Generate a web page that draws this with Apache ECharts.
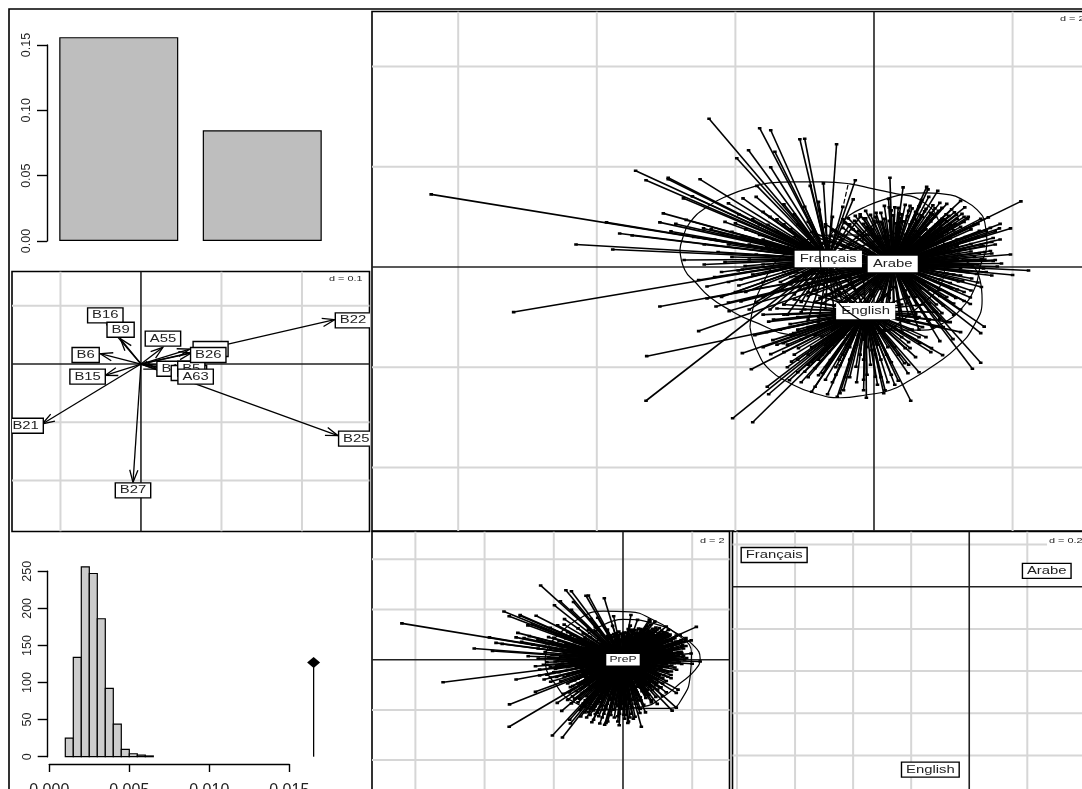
<!DOCTYPE html>
<html>
<head>
<meta charset="utf-8">
<title>ACP inter-classes langue</title>
<script src="https://cdn.jsdelivr.net/npm/echarts@6/dist/echarts.min.js"></script>
<style>
html,body{margin:0;padding:0;background:#fff;overflow:hidden}
#main{width:1082px;height:789px}
</style>
</head>
<body>
<div id="main"></div>
<script type="text/javascript">
// eigenvalue barplot
var eigenValues = [0.156, 0.0847];

// permutation histogram
var histEdges = [0.001, 0.0015, 0.002, 0.0025, 0.003, 0.0035, 0.004, 0.0045, 0.005, 0.0055, 0.006, 0.0065];
var histCounts = [25, 134, 256, 247, 186, 92, 44, 10, 4, 2, 1];
var observedStat = [0.01652, 127];

// biplot arrows: name, tip, label position
var loadNames = ['B12', 'B18', 'B5', '', 'B21', 'B25', 'B22', 'B27', 'B6', 'B15', 'B16', 'B9', 'A55', 'B26', 'A63'];
var loadTips = [[0.019, -0.0086], [0.0385, -0.0114], [0.045, -0.004], [0.0605, 0.0257], [-0.1226, -0.1029], [0.2447, -0.1229], [0.2406, 0.076], [-0.0099, -0.203], [-0.0505, 0.0177], [-0.0443, -0.0194], [-0.0422, 0.0675], [-0.0257, 0.0435], [0.0273, 0.0286], [0.0625, 0.0189], [0.05, -0.012]];
var loadLabels = [[0.0418, -0.008], [0.0596, -0.0154], [0.0625, -0.008], [0.0865, 0.0257], [-0.1433, -0.1058], [0.2675, -0.128], [0.2634, 0.0749], [-0.0099, -0.2167], [-0.0687, 0.0154], [-0.0663, -0.0217], [-0.0443, 0.0835], [-0.0253, 0.0589], [0.0273, 0.0435], [0.0836, 0.0154], [0.0679, -0.0217]];

// individuals, same scores in the language panel and the PreP panel
var francaisPts = [[-6.39,1.45],[-5.20,-0.90],[-3.86,0.89],[-4.30,0.45],[-3.77,0.35],[-3.67,0.67],[-3.49,0.63],[-3.44,1.92],[-3.29,1.73],[-2.97,1.75],[-2.97,1.78],[-2.51,1.75],[-2.75,1.37],[-2.62,1.41],[-3.04,1.07],[-3.09,0.89],[-2.86,0.86],[-2.93,0.71],[-2.71,0.94],[-2.46,0.77],[-2.10,1.27],[-2.0,0.87],[-1.89,1.37],[-1.81,2.33],[-1.98,2.17],[-2.38,2.96],[-2.74,0.14],[-2.41,-0.39],[-2.53,-0.26],[-1.96,-0.07],[-1.92,-0.25],[-1.95,-0.37],[-3.29,-2.67],[-1.86,0.02],[-1.65,2.77],[-1.49,2.73],[-1.07,2.55],[-1.00,2.56],[-0.54,2.45],[-1.43,2.30],[-1.49,1.99],[-0.27,1.73],[-0.73,1.67],[-0.92,1.62],[-1.69,1.62],[-1.70,1.40],[-0.79,1.14],[-1.65,0.64],[-1.53,0.84],
[-2.3,0.55],[-2.1,0.45],[-2.25,0.3],[-1.9,0.6],[-1.75,0.95],[-1.6,1.1],[-1.55,0.4],[-1.7,0.25],[-1.45,0.55],[-1.4,0.95],[-1.3,1.25],[-1.2,0.75],[-1.25,0.4],[-1.15,1.05],[-1.05,0.5],[-0.95,0.9],[-0.85,0.65],[-0.6,1.0],[-0.55,0.7],[-0.45,1.2],[-0.35,0.85],[-0.2,1.0],[-0.1,0.65],[0.05,0.9],[-1.85,-0.5],[-1.7,-0.7],[-1.6,-0.3],[-1.5,-0.85],[-1.4,-0.5],[-1.25,-0.95],[-1.2,-0.35],[-1.05,-0.7],[-0.95,-1.05],[-0.85,-0.45],[-0.7,-0.85],[-0.55,-0.6],[-0.4,-0.95],[-0.25,-0.5],[-0.1,-0.7],[0.1,-0.4],[0.2,0.45],[0.35,0.7],[-2.15,0.1],[-2.2,-0.1],[-1.6,0.05],[-1.3,-0.1],[-1.1,0.1],
[-2.6,0.6],[-2.45,0.45],[-2.35,0.75],[-2.2,0.65],[-2.15,0.9],[-2.05,0.7],[-1.95,1.05],[-1.85,0.75],[-1.8,0.45],[-1.65,0.85],[-1.6,0.55],[-1.5,1.0],[-1.4,0.7],[-1.35,0.3],[-1.3,0.85],[-1.15,0.6],[-1.1,0.85],[-1.0,1.2],[-1.0,0.3],[-0.9,0.5],[-0.8,1.3],[-0.7,0.8],[-0.65,0.5],[-0.45,0.55],[-0.3,1.35],[-2.45,0.05],[-2.3,-0.2],[-2.1,-0.3],[-2.05,0.2],[-1.9,-0.05],[-1.8,0.15],[-1.75,-0.15],[-1.55,-0.1],[-1.45,0.15],[-1.35,-0.3],[-1.2,0.15],[-1.15,-0.55],[-1.0,-0.2],[-0.95,-0.4],[-0.75,-0.2],[-0.9,0.05],[-2.2,-0.6],[-2.0,-0.5],[-1.8,-0.85],[-1.6,-0.6],[-1.3,-0.75],[-1.05,-0.9],[-0.8,-1.1],[-0.55,-1.2],[-0.3,-0.85]];
var arabePts = [[0.23,1.78],[0.42,1.59],[0.76,1.60],[0.78,1.55],[0.92,1.52],[0.79,1.40],[0.21,1.36],[1.25,1.32],[1.31,1.19],[0.95,1.28],[1.05,1.26],[0.88,1.17],[1.19,1.04],[1.54,0.96],[1.35,0.96],[1.65,0.99],[2.12,1.31],[1.82,0.86],[1.97,0.77],[1.81,0.77],[1.75,0.71],[1.82,0.55],[1.70,0.27],[1.97,0.25],[1.75,0.14],[1.84,0.07],[2.23,-0.07],[2.0,-0.16],[1.22,-0.29],[1.41,-0.23],[1.39,-0.61],[1.39,-0.74],[1.59,-1.19],[1.54,-1.32],[1.14,-1.44],[0.95,-1.48],[1.54,-1.91],[1.42,-2.03],[-2.53,-1.28],[-3.09,-0.79],[-2.41,-0.63],[-2.28,-0.79],[-2.10,-0.71],[-2.09,-0.88],[-1.92,-0.69],
[-0.15,0.97],[-0.05,1.04],[0.03,1.08],[-0.37,0.97],[0.22,1.19],[0.30,1.19],[0.52,1.22],[0.69,1.34],
[0.4,1.05],[0.6,1.1],[0.7,1.0],[0.85,1.05],[1.0,0.95],[1.1,0.85],[1.25,0.8],[1.4,0.75],[1.5,0.6],[1.55,0.45],[1.6,0.3],[1.45,0.2],[1.5,0.05],[1.35,-0.1],[1.3,0.35],[1.2,0.55],[1.05,0.7],[0.9,0.85],[0.75,0.75],[0.55,0.9],[0.35,0.85],[0.1,0.9],[-0.1,0.8],[-0.3,0.75],[-0.5,0.6],[-0.7,0.55],[-0.85,0.35],[-0.95,0.15],[-0.9,-0.1],[-0.8,-0.35],[-0.65,-0.55],[-0.45,-0.7],[-0.2,-0.85],[0.05,-0.95],[0.3,-1.0],[0.5,-0.95],[0.7,-0.9],[0.9,-0.75],[1.05,-0.6],[1.2,-0.45],[1.15,-0.15],[1.1,0.1],[0.95,0.3],[0.85,0.5],[0.65,0.6],[0.45,0.65],[0.25,0.7],[0.05,0.6],[-0.15,0.55],[-0.35,0.45],[-0.55,0.3],[-0.6,0.05],[-0.5,-0.2],[-0.4,-0.4],[-0.15,-0.55],[0.1,-0.65],[0.35,-0.7],[0.6,-0.6],[0.8,-0.45],[0.95,-0.25],[0.85,-0.05],[0.75,0.15],[0.6,0.35],[0.4,0.45],[0.2,0.4],[0,0.35],[-0.2,0.2],[-0.3,0],[-0.2,-0.2],[0,-0.35],[0.25,-0.4],[0.5,-0.3],[0.6,-0.1],[0.5,0.1],[1.3,1.0],[1.45,0.85],[1.62,0.72],[1.7,0.5],[1.6,0.15],[1.62,-0.1],[1.55,-0.4],[1.3,-0.5],[1.25,-0.85],[1.05,-1.1],[0.85,-1.2],[0.65,-1.25],[0.4,-1.3],[0.15,-1.25],[-0.1,-1.15],[-0.35,-1.05],[-0.6,-0.9],[-0.85,-0.7],[-1.05,-0.45],[-1.2,-0.2],[-1.25,0.2],[-1.1,0.45],[-0.9,0.7],[-0.7,0.85],[-0.45,0.95],[-0.2,1.05],
[0.15,1.22],[0.35,1.18],[0.45,1.24],[0.55,1.17],[0.65,1.21],[0.75,1.16],[0.85,1.23],[0.98,1.18],[1.12,1.15],[-0.12,1.12],[0.1,1.08],[0.25,1.13],[0.36,1.07],[0.5,1.12],[0.62,1.06],[0.73,1.11],[0.82,1.08],[0.93,1.12],[1.04,1.05],[1.16,1.09],[1.27,1.06],[-0.27,1.02],[-0.12,0.97],[0.02,1.0],[0.15,0.96],[0.28,1.03],[0.38,0.97],[0.48,1.01],[0.58,0.96],[0.68,1.03],[0.78,0.97],[0.88,1.0],[0.98,0.96],[1.08,1.02],[1.2,0.96],[1.36,1.0],[-0.42,0.88],[-0.28,0.92],[-0.15,0.86],[0,0.91],[0.12,0.86],[0.22,0.92],[0.32,0.87],[0.42,0.91],[0.52,0.85],[0.62,0.92],[0.72,0.86],[0.82,0.91],[0.95,0.86],[1.05,0.91],[1.17,0.86],[1.3,0.9],[1.5,0.86],[-0.6,0.73],[-0.45,0.78],[-0.22,0.72],[-0.02,0.76],[0.18,0.73],[0.38,0.77],[0.6,0.72],[0.82,0.75],[0.97,0.78],[1.15,0.73],[1.32,0.76],[1.52,0.72],[1.68,0.78],[-0.8,0.58],[-0.62,0.62],[-0.25,0.6],[0.15,0.62],[0.35,0.58],[0.75,0.6],[0.98,0.62],[1.1,0.57],[1.32,0.6],[1.42,0.56],[1.6,0.62],[1.72,0.58],[-0.95,0.42],[-0.75,0.47],[-0.45,0.43],[-0.1,0.46],[0.72,0.44],[1.02,0.46],[1.2,0.42],[1.4,0.46],[1.58,0.42],[1.75,0.45],[-1.05,0.28],[-0.85,0.32],[-0.68,0.27],[-0.4,0.3],[0.85,0.28],[1.08,0.32],[1.22,0.27],[1.4,0.31],[1.52,0.28],[1.68,0.32],[-1.15,0.13],[-1.02,0.16],[-0.75,0.14],[-0.48,0.17],[0.92,0.14],[1.2,0.16],[1.33,0.13],[1.55,0.16],[1.72,0.12],[-1.3,-0.02],[-1.1,0.02],[-0.78,-0.02],[-0.45,0.02],[0.72,-0.02],[0.98,0.02],[1.25,-0.02],[1.42,0.02],[1.58,-0.03],[1.78,0.01],[-1.22,-0.13],[-1.05,-0.17],[-0.7,-0.14],[-0.45,-0.16],[0.72,-0.15],[1.05,-0.13],[1.25,-0.17],[1.48,-0.14],[1.7,-0.17],[-1.12,-0.28],[-0.95,-0.32],[-0.65,-0.27],[-0.32,-0.3],[0.72,-0.32],[0.88,-0.28],[1.1,-0.32],[1.28,-0.28],[1.5,-0.31],[-1.0,-0.43],[-0.85,-0.47],[-0.55,-0.45],[-0.25,-0.47],[0.1,-0.44],[0.45,-0.47],[0.68,-0.43],[0.95,-0.46],[1.12,-0.43],[1.4,-0.47],[-0.95,-0.58],[-0.78,-0.62],[-0.5,-0.58],[-0.28,-0.62],[-0.02,-0.58],[0.22,-0.62],[0.45,-0.58],[0.72,-0.62],[0.95,-0.58],[1.18,-0.62],[1.3,-0.68],[-0.75,-0.73],[-0.58,-0.77],[-0.32,-0.73],[-0.1,-0.77],[0.12,-0.73],[0.28,-0.77],[0.48,-0.73],[0.62,-0.77],[0.8,-0.73],[1.0,-0.77],[1.15,-0.73],[-0.55,-0.88],[-0.35,-0.92],[-0.1,-0.88],[0.15,-0.92],[0.38,-0.88],[0.6,-0.92],[0.8,-0.88],[0.98,-0.92],[1.15,-0.95],[-0.28,-1.03],[-0.02,-1.07],[0.2,-1.03],[0.42,-1.07],[0.62,-1.03],[0.78,-1.07],[0.95,-1.03]];
var englishPts = [[0.83,-1.62],[0.82,-1.70],[0.99,-1.76],[0.66,-1.52],[0.65,-2.10],[0.49,-2.12],[0.53,-2.67],[0.52,-1.62],[0.45,-1.62],[0.44,-1.92],[0.35,-2.27],[0.16,-2.46],[0.14,-2.52],[0.10,-2.20],[0.02,-2.19],[-0.11,-2.61],[-0.15,-2.46],[-0.03,-1.66],[-0.44,-2.46],[-0.53,-2.59],[-0.49,-2.52],[-0.67,-2.54],[-0.90,-2.49],[-0.85,-2.39],[-1.0,-2.09],[-0.80,-2.16],[-0.74,-2.12],[-1.22,-2.26],[-1.54,-2.39],[-1.52,-2.54],[-1.75,-3.10],[-1.77,-2.04],[-1.46,-1.46],[-1.72,-1.36],[-1.49,-1.74],[-1.19,-1.89],[-1.31,-1.52],[-1.09,-1.62],[-1.52,-1.09],[-1.21,-1.14],[-1.40,-0.83],[-1.16,-1.32],[-0.49,-1.96],[-0.26,-1.99],[-0.35,-1.60],[-0.85,-2.02],[-0.63,-1.86],[-3.28,-1.78],[-2.04,-3.02],[-1.90,-1.72],
[-0.9,-1.9],[-0.75,-1.75],[-0.6,-1.55],[-0.45,-1.75],[-0.2,-1.75],[-0.05,-1.95],[0.1,-1.85],[0.25,-1.9],[0.3,-1.6],[0.4,-1.4],[0.55,-1.25],[0.7,-1.2],[0.8,-1.05],[0.6,-0.95],[0.4,-0.75],[0.2,-0.55],[-0.05,-0.45],[-0.3,-0.4],[-0.5,-0.5],[-0.7,-0.55],[-0.85,-0.7],[-1.0,-0.85],[-1.1,-1.0],[-0.95,-1.2],[-1.05,-1.45],[-0.9,-1.6],[-0.75,-1.4],[-0.6,-1.25],[-0.45,-1.4],[-0.3,-1.3],[-0.15,-1.45],[0,-1.35],[0.15,-1.4],[0.3,-1.2],[0.2,-1.05],[0.05,-1.15],[-0.25,-1.55],[-1.3,-1.7],[-1.15,-1.75],[-0.95,-1.75],[-1.35,-1.25],[-1.3,-0.95],[-1.55,-1.3],[-1.6,-1.6],[-1.25,-2.0],[-1.05,-2.3],[-0.6,-2.3],[-0.35,-2.2],[-0.15,-2.25],[0.25,-2.15],[0.6,-1.8],[0.75,-1.4],[1.0,-1.2],[-0.55,-2.0],[-0.7,-2.0],
[-0.8,-1.0],[-0.65,-1.05],[-0.5,-1.1],[-0.35,-1.0],[-0.2,-1.1],[-0.05,-1.0],[0.1,-0.95],[0.3,-0.95],[0.5,-1.1],[0.65,-1.0],[-1.2,-1.35],[-1.1,-1.25],[-0.85,-1.35],[-0.7,-1.55],[-0.55,-1.45],[-0.4,-1.55],[-0.1,-1.6],[0.05,-1.55],[0.2,-1.6],[0.5,-1.5],[0.65,-1.4],[-1.4,-1.55],[-1.25,-1.55],[-1.1,-1.85],[-0.95,-1.95],[-0.8,-1.85],[-0.65,-1.7],[-0.5,-1.85],[-0.35,-1.85],[-0.15,-1.85],[0.02,-1.75],[0.18,-1.75],[0.35,-1.75],[0.5,-1.95],[-1.1,-2.1],[-0.95,-2.2],[-0.7,-2.25],[-0.55,-2.15],[-0.42,-2.2],[-0.25,-2.3],[-0.1,-2.15],[0.05,-2.35],[0.2,-2.3],[0.3,-2.35],[-1.6,-0.95],[-1.45,-1.05],[-1.3,-0.75],[-1.15,-0.65],[-0.95,-0.5],[-0.75,-0.35],[-0.55,-0.3],[-0.35,-0.2],[-0.15,-0.25],[0.05,-0.3],[0.3,-0.4],[0.5,-0.6],[0.7,-0.75],[0.9,-0.9],[1.1,-1.1],[1.25,-1.3]];

// class centres
var groupNames = ['Français', 'Arabe', 'English'];
var groupCentres = [[-0.66, 0.16], [0.27, 0.06], [-0.12, -0.88]];
var prepCentre = [0, 0];
var centreMeans = [[-0.672, 0.15], [0.267, 0.075], [-0.134, -0.867]];

// class outlines
var francaisCurve = [[-2.80,0.34],[-2.77,0.54],[-2.66,0.88],[-2.41,1.20],[-2.08,1.44],[-1.79,1.58],[-1.50,1.68],[-1.17,1.70],[-0.74,1.70],[-0.35,1.66],[-0.01,1.56],[0.33,1.46],[0.66,1.34],[0.95,0.84],[1.02,0.04],[0.59,-0.86],[-0.20,-1.36],[-1.07,-1.36],[-1.79,-1.06],[-2.08,-0.86],[-2.37,-0.60],[-2.58,-0.30],[-2.73,-0.06],[-2.80,0.34]];
var arabeCurve = [[-0.35,1.04],[-0.16,1.18],[0.13,1.34],[0.48,1.46],[0.76,1.48],[1.10,1.44],[1.28,1.34],[1.49,1.14],[1.60,0.88],[1.63,0.48],[1.53,0],[1.46,-0.40],[1.28,-0.80],[1.0,-1.12],[0.71,-1.26],[0.23,-1.26],[-0.20,-1.06],[-0.63,-0.46],[-0.78,0.34],[-0.63,0.64],[-0.35,1.04]];
var englishCurve = [[-1.79,-1.20],[-1.69,-1.66],[-1.50,-2.06],[-1.21,-2.32],[-0.88,-2.51],[-0.49,-2.61],[-0.10,-2.55],[0.23,-2.46],[0.52,-2.26],[0.91,-1.92],[1.20,-1.60],[1.43,-1.20],[1.56,-0.66],[1.53,-0.26],[1.24,0.18],[0.38,0.58],[-0.49,0.64],[-1.21,0.34],[-1.65,-0.46],[-1.79,-1.20]];
var prepCurve = [[-2.25,0.05],[-2.16,0.52],[-1.92,0.92],[-1.34,1.58],[-0.57,1.94],[0.20,1.91],[0.88,1.58],[1.55,1.05],[2.03,0.58],[2.23,0.05],[2.08,-0.41],[1.65,-0.94],[1.17,-1.47],[0.59,-1.87],[-0.57,-2.0],[-1.53,-1.6],[-1.97,-0.94],[-2.21,-0.41],[-2.25,0.05]];
var prepCurve2 = [[-0.57,1.38],[0.01,1.61],[0.88,1.45],[1.65,0.92],[1.98,0.25],[1.94,-0.68],[1.74,-1.47],[1.36,-1.94],[0.68,-1.94],[-0.38,-1.47],[-1.15,-0.41],[-1.15,0.65],[-0.57,1.38]];
var dashSegment = [[-0.375, 1.64], [-0.447, 1.20]];

// gridline positions
var loadGridX = [-0.1, 0.1, 0.2], loadGridY = [0.1, -0.1, -0.2];
var scoreGridX = [-6, -4, -2, 2], scoreGridY = [4, 2, -2, -4];
var meanGridX = [-0.8, -0.6, -0.4, -0.2, 0.2], meanGridY = [0.2, -0.2, -0.4, -0.6, -0.8];

var FONT = '"Liberation Sans", Arial, sans-serif';
var STRETCH = 1.35; // the source plot is stretched sideways, labels with it
var measure = document.createElement('canvas').getContext('2d');

var myChart = echarts.init(document.getElementById('main'), null, {renderer: 'canvas'});

function ruleSeries(g, dim, values, color, width) {
	return {
		type: 'custom', xAxisIndex: g, yAxisIndex: g, clip: true, silent: true,
		encode: {x: 0, y: 1},
		data: values.map(function (v) { return dim === 'x' ? [v, 0] : [0, v]; }),
		renderItem: function (params, api) {
			var c = params.coordSys, p = api.coord([api.value(0), api.value(1)]);
			var shape = dim === 'x'
				? {x1: p[0], y1: c.y, x2: p[0], y2: c.y + c.height}
				: {x1: c.x, y1: p[1], x2: c.x + c.width, y2: p[1]};
			return {type: 'line', shape: shape, style: {stroke: color, lineWidth: width}};
		}
	};
}

function rules(g, xs, ys) {
	return [
		ruleSeries(g, 'x', xs, '#d6d6d6', 2),
		ruleSeries(g, 'y', ys, '#d6d6d6', 2),
		ruleSeries(g, 'x', [0], '#222', 1.6),
		ruleSeries(g, 'y', [0], '#222', 1.6)
	];
}

// stars: each individual linked to its class centre
function starSeries(g, pts, centre) {
	return {
		type: 'custom', xAxisIndex: g, yAxisIndex: g, clip: true, silent: true,
		encode: {x: 0, y: 1},
		data: pts.map(function (p) { return [p[0], p[1], centre[0], centre[1]]; }),
		renderItem: function (params, api) {
			var a = api.coord([api.value(0), api.value(1)]);
			var b = api.coord([api.value(2), api.value(3)]);
			return {type: 'group', children: [
				{type: 'line', shape: {x1: b[0], y1: b[1], x2: a[0], y2: a[1]}, style: {stroke: '#000', lineWidth: 1.6}},
				{type: 'rect', shape: {x: a[0] - 1.8, y: a[1] - 1.3, width: 3.6, height: 2.6}, style: {fill: '#000'}}
			]};
		}
	};
}

function curveSeries(g, pts, dashed) {
	return {
		type: 'line', xAxisIndex: g, yAxisIndex: g, data: pts, smooth: !dashed, symbol: 'none', silent: true,
		lineStyle: {color: '#000', width: 1.2, type: dashed ? 'dashed' : 'solid'}
	};
}

// boxed labels, centred on their data position
function boxSeries(g, names, pts, fontSize, border) {
	return {
		type: 'custom', xAxisIndex: g, yAxisIndex: g, clip: true, silent: true,
		encode: {x: 0, y: 1},
		data: pts.map(function (p) { return [p[0], p[1]]; }),
		renderItem: function (params, api) {
			var p = api.coord([api.value(0), api.value(1)]);
			var name = names[params.dataIndex];
			var font = fontSize + 'px ' + FONT;
			measure.font = font;
			var w = (name ? measure.measureText(name).width * STRETCH : 26) + (fontSize < 10 ? 5 : 9);
			var h = fontSize < 10 ? 10 : 15;
			return {type: 'group', children: [
				{type: 'rect', shape: {x: p[0] - w / 2, y: p[1] - h / 2, width: w, height: h},
					style: {fill: '#fff', stroke: border, lineWidth: 1.4}},
				{type: 'text', x: p[0], y: p[1], scaleX: STRETCH,
					style: {text: name, font: font, fill: '#222', textAlign: 'center', textVerticalAlign: 'middle'}}
			]};
		}
	};
}

var arrowSeries = {
	type: 'custom', xAxisIndex: 1, yAxisIndex: 1, clip: true, silent: true,
	encode: {x: 0, y: 1},
	data: loadTips,
	renderItem: function (params, api) {
		var o = api.coord([0, 0]);
		var t = api.coord([api.value(0), api.value(1)]);
		var ang = Math.atan2(o[1] - t[1], o[0] - t[0]);
		var len = 13, spread = 0.32;
		return {type: 'group', children: [
			{type: 'line', shape: {x1: o[0], y1: o[1], x2: t[0], y2: t[1]}, style: {stroke: '#000', lineWidth: 1.3}},
			{type: 'polyline', shape: {points: [
				[t[0] + len * Math.cos(ang + spread), t[1] + len * Math.sin(ang + spread)],
				t,
				[t[0] + len * Math.cos(ang - spread), t[1] + len * Math.sin(ang - spread)]
			]}, style: {stroke: '#000', fill: null, lineWidth: 1.3}}
		]};
	}
};

var histSeries = {
	type: 'custom', xAxisIndex: 2, yAxisIndex: 2, clip: false, silent: true,
	encode: {x: [0, 1], y: 2},
	data: histCounts.map(function (n, i) { return [histEdges[i], histEdges[i + 1], n]; }),
	renderItem: function (params, api) {
		var a = api.coord([api.value(0), 0]);
		var b = api.coord([api.value(1), api.value(2)]);
		return {type: 'rect', shape: {x: a[0], y: b[1], width: b[0] - a[0], height: a[1] - b[1]},
			style: {fill: '#cccccc', stroke: '#000', lineWidth: 1.2}};
	}
};

// observed statistic: stick with a diamond on top
var observedSeries = {
	type: 'custom', xAxisIndex: 2, yAxisIndex: 2, clip: false, silent: true,
	encode: {x: 0, y: 1},
	data: [observedStat],
	renderItem: function (params, api) {
		var a = api.coord([api.value(0), 0]);
		var b = api.coord([api.value(0), api.value(1)]);
		return {type: 'group', children: [
			{type: 'line', shape: {x1: a[0], y1: a[1], x2: b[0], y2: b[1]}, style: {stroke: '#000', lineWidth: 1.3}},
			{type: 'polygon', shape: {points: [[b[0] - 6.5, b[1]], [b[0], b[1] - 5.5], [b[0] + 6.5, b[1]], [b[0], b[1] + 5.5]]}, style: {fill: '#000'}}
		]};
	}
};

function hiddenAxis(g, range) {
	return {gridIndex: g, type: 'value', show: false, min: range[0], max: range[1]};
}

var tickStyle = {show: true, length: 10, inside: false, lineStyle: {color: '#000', width: 1.4}};
var lineStyle = {show: true, onZero: false, lineStyle: {color: '#000', width: 1.4}};

var grids = [
	{left: 47, top: 45, width: 287, height: 196},
	{left: 12, top: 271.5, width: 357.5, height: 260, show: true, borderColor: '#000', borderWidth: 1.6},
	{left: 49.3, top: 571.3, width: 240, height: 185.4},
	{left: 372, top: 11.5, width: 718, height: 519.5, show: true, borderColor: '#000', borderWidth: 1.6},
	{left: 372, top: 531.5, width: 357.5, height: 268.5, show: true, borderColor: '#000', borderWidth: 1.6},
	{left: 732.5, top: 531.5, width: 357.5, height: 268.5, show: true, borderColor: '#000', borderWidth: 1.6}
];
// panels run past the window edge as in the source, do not shrink them to fit
grids.forEach(function (g) { g.outerBoundsMode = 'none'; });

var option = {
	animation: false,
	backgroundColor: '#fff',
	grid: grids,
	xAxis: [
		{gridIndex: 0, type: 'category', show: false, data: ['1', '2']},
		hiddenAxis(1, [-0.1602, 0.2839]),
		{gridIndex: 2, type: 'value', min: 0, max: 0.015, interval: 0.005, offset: 7.3, position: 'bottom',
			splitLine: {show: false}, axisLine: lineStyle, axisTick: {show: true, length: 8, lineStyle: {color: '#000', width: 1.4}},
			axisLabel: {show: true, margin: 19, fontFamily: FONT, fontSize: 16, color: '#222', showMinLabel: true, showMaxLabel: true,
				formatter: function (v) { return v.toFixed(3); }}},
		hiddenAxis(3, [-7.244, 3.117]),
		hiddenAxis(4, [-7.254, 3.078]),
		hiddenAxis(5, [-0.8155, 0.416])
	],
	yAxis: [
		{gridIndex: 0, type: 'value', min: 0, max: 0.15, interval: 0.05, splitLine: {show: false}, axisLine: lineStyle, axisTick: tickStyle,
			axisLabel: {show: true, rotate: 90, margin: 14, fontFamily: FONT, fontSize: 12.5, color: '#222', showMinLabel: true, showMaxLabel: true,
				formatter: function (v) { return v.toFixed(2); }}},
		hiddenAxis(1, [-0.2873, 0.1587]),
		{gridIndex: 2, type: 'value', min: 0, max: 250, interval: 50, offset: 1.6, splitLine: {show: false}, axisLine: lineStyle, axisTick: tickStyle,
			axisLabel: {show: true, rotate: 90, margin: 14, fontFamily: FONT, fontSize: 12.5, color: '#222', showMinLabel: true, showMaxLabel: true}},
		hiddenAxis(3, [-5.27, 5.10]),
		hiddenAxis(4, [-5.59, 5.11]),
		hiddenAxis(5, [-1.011, 0.2616])
	],
	series: [].concat(
		[{type: 'bar', xAxisIndex: 0, yAxisIndex: 0, data: eigenValues, barWidth: 119, clip: false, silent: true,
			itemStyle: {color: '#bebebe', borderColor: '#000', borderWidth: 1.2}}],

		rules(1, loadGridX, loadGridY),
		[arrowSeries, boxSeries(1, loadNames, loadLabels, 11, '#000')],

		[histSeries, observedSeries],

		rules(3, scoreGridX, scoreGridY),
		[starSeries(3, francaisPts, groupCentres[0]), starSeries(3, arabePts, groupCentres[1]), starSeries(3, englishPts, groupCentres[2]),
		curveSeries(3, francaisCurve), curveSeries(3, arabeCurve), curveSeries(3, englishCurve), curveSeries(3, dashSegment, true),
		boxSeries(3, groupNames, groupCentres, 11, '#fff')],

		rules(4, scoreGridX, scoreGridY),
		[starSeries(4, francaisPts, prepCentre), starSeries(4, arabePts, prepCentre), starSeries(4, englishPts, prepCentre),
		curveSeries(4, prepCurve), curveSeries(4, prepCurve2),
		boxSeries(4, ['PreP'], [prepCentre], 9, '#fff')],

		rules(5, meanGridX, meanGridY),
		[boxSeries(5, groupNames, centreMeans, 11, '#000')]
	),
	graphic: [
		{type: 'rect', z: 40, silent: true, shape: {x: 9, y: 9, width: 1100, height: 800}, style: {fill: null, stroke: '#000', lineWidth: 1.6}},
		{type: 'rect', z: 41, silent: true, shape: {x: 327, y: 274, width: 40, height: 10}, style: {fill: '#fff'}},
		{type: 'text', z: 42, silent: true, x: 329, y: 275, scaleX: 1.36, style: {text: 'd = 0.1', font: '8px ' + FONT, fill: '#222'}},
		{type: 'rect', z: 41, silent: true, shape: {x: 698, y: 536, width: 30, height: 10}, style: {fill: '#fff'}},
		{type: 'text', z: 42, silent: true, x: 700, y: 537, scaleX: 1.36, style: {text: 'd = 2', font: '8px ' + FONT, fill: '#222'}},
		{type: 'rect', z: 41, silent: true, shape: {x: 1047, y: 536, width: 40, height: 10}, style: {fill: '#fff'}},
		{type: 'text', z: 42, silent: true, x: 1049, y: 537, scaleX: 1.36, style: {text: 'd = 0.2', font: '8px ' + FONT, fill: '#222'}},
		{type: 'rect', z: 41, silent: true, shape: {x: 1058, y: 14, width: 30, height: 10}, style: {fill: '#fff'}},
		{type: 'text', z: 42, silent: true, x: 1060, y: 15, scaleX: 1.36, style: {text: 'd = 2', font: '8px ' + FONT, fill: '#222'}}
	]
};

myChart.setOption(option);
</script>
</body>
</html>
